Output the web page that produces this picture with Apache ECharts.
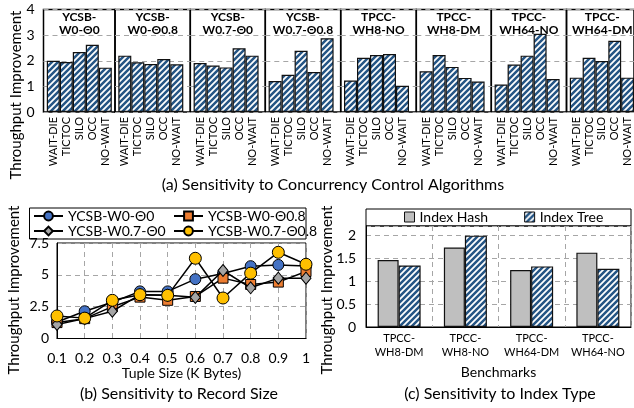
<!DOCTYPE html>
<html><head><meta charset="utf-8">
<script src="https://cdn.jsdelivr.net/npm/echarts@6/dist/echarts.min.js"></script>
<style>html,body{margin:0;padding:0;background:#fff}#c{width:634px;height:408px}</style>
</head><body><div id="c"></div>
<script>
// ---------- data ----------
const panelNames = ['YCSB-\nW0-Θ0','YCSB-\nW0-Θ0.8','YCSB-\nW0.7-Θ0','YCSB-\nW0.7-Θ0.8','TPCC-\nWH8-NO','TPCC-\nWH8-DM','TPCC-\nWH64-NO','TPCC-\nWH64-DM'];
const ccAlgorithms = ['WAIT-DIE','TICTOC','SILO','OCC','NO-WAIT'];
const ccImprovement = [
  [2.00,1.95,2.34,2.62,1.73],
  [2.20,1.94,1.87,2.07,1.86],
  [1.91,1.81,1.74,2.49,2.20],
  [1.21,1.45,2.39,1.56,2.88],
  [1.23,2.12,2.22,2.26,1.02],
  [1.59,2.22,1.76,1.33,1.19],
  [1.07,1.85,2.20,3.05,1.29],
  [1.34,2.12,1.99,2.78,1.34]
];
const ccTicks = [0,1,2,3,4];
const tupleSizes = ['0.1','0.2','0.3','0.4','0.5','0.6','0.7','0.8','0.9','1'];
const ycsbW0T0   = [1.30,2.14,2.85,3.70,3.70,4.66,5.10,5.68,5.78,5.70];
const ycsbW0T08  = [1.25,1.56,2.50,3.25,3.00,3.30,4.74,4.24,4.43,5.26];
const ycsbW07T0  = [1.10,1.56,2.14,3.44,3.40,3.23,5.34,3.98,4.74,4.74];
const ycsbW07T08 = [1.77,1.60,3.00,3.44,3.39,6.30,3.18,5.13,6.77,5.83];
const lineSeriesNames = ['YCSB-W0-Θ0','YCSB-W0-Θ0.8','YCSB-W0.7-Θ0','YCSB-W0.7-Θ0.8'];
const indexBenchmarks = ['TPCC-\nWH8-DM','TPCC-\nWH8-NO','TPCC-\nWH64-DM','TPCC-\nWH64-NO'];
const indexHash = [1.46,1.73,1.24,1.62];
const indexTree = [1.34,1.99,1.32,1.27];

// ---------- styling helpers ----------
const FONT = 'Lato, "DejaVu Sans", sans-serif';
const TXT = '#000';
function hatch(){
  const s = 6, c = document.createElement('canvas');
  c.width = c.height = s;
  const g = c.getContext('2d');
  g.fillStyle = '#fff'; g.fillRect(0,0,s,s);
  g.strokeStyle = '#255585'; g.lineWidth = 2.5;
  g.beginPath();
  g.moveTo(-1, s+1); g.lineTo(s+1, -1);
  g.moveTo(-s/2-1, s/2+1); g.lineTo(s/2+1, -s/2-1);
  g.moveTo(s/2-1, s*1.5+1); g.lineTo(s*1.5+1, s/2-1);
  g.stroke();
  return {image: c, repeat: 'repeat'};
}
const HATCH = hatch();
const dashed = {show:true, lineStyle:{color:'#a6a6a6', type:[5,4], width:1}};

// ---------- layout ----------
const edges = [43.5, 115, 190.3, 265.3, 340.7, 416.3, 491.3, 566.5, 637];
const topA = 9.5, bottomA = 112;

const grid = [], xAxis = [], yAxis = [], series = [], graphic = [];

// frame grids (0..7)
for (let i = 0; i < 8; i++) {
  grid.push({left: edges[i], top: topA, width: edges[i+1]-edges[i], height: bottomA-topA,
    show: true, borderColor: '#000', borderWidth: 1.5, containLabel: false});
  xAxis.push({gridIndex: i, type: 'category', data: [''], show: false});
  yAxis.push({gridIndex: i, type: 'value', min: ccTicks[0], max: ccTicks[ccTicks.length-1], interval: 1,
    axisLine: {show: false}, axisTick: {show: false},
    axisLabel: {show: i === 0, fontSize: 14, color: TXT, fontFamily: FONT, margin: 9},
    splitLine: dashed});
}
// data grids (8..15)
for (let i = 0; i < 8; i++) {
  const gi = 8 + i;
  grid.push({left: edges[i] + 3.3, top: topA, width: 65, height: bottomA-topA, show: false});
  xAxis.push({gridIndex: gi, type: 'category', data: ccAlgorithms,
    axisLine: {show: false}, axisTick: {show: false},
    axisLabel: {rotate: 90, interval: 0, fontSize: 11, color: TXT, fontFamily: FONT, margin: 5},
    splitLine: {show: false}});
  yAxis.push({gridIndex: gi, type: 'value', min: 0, max: 4, show: false, splitLine: {show: false}});
  series.push({type: 'bar', xAxisIndex: gi, yAxisIndex: gi, data: ccImprovement[i],
    barCategoryGap: '0%', itemStyle: {color: HATCH, borderColor: '#111', borderWidth: 1.2},
    emphasis: {disabled: true}, silent: true});
  graphic.push({type: 'text', x: (edges[i] + Math.min(edges[i+1], 634)) / 2 + (i === 7 ? 2 : 0), y: 11,
    style: {text: panelNames[i], align: 'center', verticalAlign: 'top',
      font: 'bold 12px ' + FONT, lineHeight: 12.5, fill: '#000'}});
}

// (b) grid 16
grid.push({left: 57, top: 243, width: 249, height: 95.5, show: true, borderColor: '#000', borderWidth: 1});
xAxis.push({gridIndex: 16, type: 'category', data: tupleSizes, boundaryGap: false,
  axisLine: {lineStyle: {color: '#000'}}, axisTick: {show: false},
  axisLabel: {fontSize: 14, color: TXT, fontFamily: FONT, margin: 13},
  splitLine: dashed,
  name: 'Tuple Size (K Bytes)', nameLocation: 'middle', nameGap: 20,
  nameTextStyle: {fontSize: 14, color: TXT, fontFamily: FONT}});
yAxis.push({gridIndex: 16, type: 'value', min: 0, max: 7.5, interval: 2.5,
  axisLine: {show: true, lineStyle: {color: '#000'}}, axisTick: {show: false},
  axisLabel: {fontSize: 14, color: TXT, fontFamily: FONT, margin: 8},
  splitLine: dashed});
const lineDefs = [
  {data: ycsbW0T0, symbol: 'circle', size: 11, color: '#4472c4'},
  {data: ycsbW0T08, symbol: 'rect', size: 10, color: '#ed7d31'},
  {data: ycsbW07T0, symbol: 'diamond', size: [10, 12], color: '#a5a5a5'},
  {data: ycsbW07T08, symbol: 'circle', size: 12, color: '#ffc000'}
];
lineDefs.forEach((d, k) => {
  series.push({type: 'line', name: lineSeriesNames[k], xAxisIndex: 16, yAxisIndex: 16, data: d.data,
    symbol: d.symbol, symbolSize: d.size, showAllSymbol: true,
    lineStyle: {color: '#000', width: 1.5},
    itemStyle: {color: d.color, borderColor: '#000', borderWidth: 1},
    emphasis: {disabled: true}, silent: true, z: 2 + k});
});

// (c) grid 17
grid.push({left: 366, top: 226, width: 265, height: 101, show: true, borderColor: '#000', borderWidth: 1});
xAxis.push({gridIndex: 17, type: 'category', data: indexBenchmarks,
  axisLine: {lineStyle: {color: '#000'}}, axisTick: {show: false},
  axisLabel: {interval: 0, fontSize: 11, lineHeight: 13.5, color: TXT, fontFamily: FONT, margin: 5},
  splitLine: dashed,
  name: 'Benchmarks', nameLocation: 'middle', nameGap: 38,
  nameTextStyle: {fontSize: 14, color: TXT, fontFamily: FONT}});
yAxis.push({gridIndex: 17, type: 'value', min: 0, max: 2.2, interval: 0.5,
  axisLine: {show: true, lineStyle: {color: '#000'}}, axisTick: {show: false},
  axisLabel: {fontSize: 14, color: TXT, fontFamily: FONT, margin: 10, showMaxLabel: false},
  splitLine: dashed});
series.push({type: 'bar', name: 'Index Hash', xAxisIndex: 17, yAxisIndex: 17, data: indexHash,
  barWidth: 21, barGap: '0%', itemStyle: {color: '#bfbfbf', borderColor: '#111', borderWidth: 1.2},
  emphasis: {disabled: true}, silent: true});
series.push({type: 'bar', name: 'Index Tree', xAxisIndex: 17, yAxisIndex: 17, data: indexTree,
  barWidth: 22, barGap: '0%', itemStyle: {color: HATCH, borderColor: '#111', borderWidth: 1.2},
  emphasis: {disabled: true}, silent: true});

// rotated axis titles, captions, legend boxes
const rot = (x, y, t) => ({type: 'text', x: x, y: y, rotation: Math.PI/2,
  style: {text: t, align: 'center', verticalAlign: 'middle', font: '15px ' + FONT, fill: TXT}});
graphic.push(rot(16, 95, 'Throughput Improvement'));
graphic.push(rot(14, 290, 'Throughput Improvement'));
graphic.push(rot(327, 290, 'Throughput Improvement'));
const cap = (x, y, t) => ({type: 'text', x: x, y: y,
  style: {text: t, align: 'center', verticalAlign: 'middle', font: '16px ' + FONT, fill: TXT}});
graphic.push(cap(333, 185, '(a) Sensitivity to Concurrency Control Algorithms'));
graphic.push(cap(179, 394, '(b) Sensitivity to Record Size'));
graphic.push(cap(500, 394, '(c) Sensitivity to Index Type'));
graphic.push({type: 'rect', shape: {x: 29.5, y: 208, width: 276.5, height: 31},
  style: {fill: 'transparent', stroke: '#000', lineWidth: 1}, z: -1});
graphic.push({type: 'rect', shape: {x: 366, y: 209, width: 265, height: 17},
  style: {fill: 'transparent', stroke: '#000', lineWidth: 1}, z: -1});

const legText = {fontSize: 14, color: TXT, fontFamily: FONT};
const legend = [
  {data: [lineSeriesNames[0], lineSeriesNames[2]], orient: 'vertical', left: 33, top: 209,
    itemWidth: 29, itemHeight: 11, itemGap: 1, padding: 0, textStyle: legText, selectedMode: false},
  {data: [lineSeriesNames[1], lineSeriesNames[3]], orient: 'vertical', left: 173, top: 209,
    itemWidth: 29, itemHeight: 11, itemGap: 1, padding: 0, textStyle: legText, selectedMode: false},
  {data: ['Index Hash', 'Index Tree'], orient: 'horizontal', left: 404, top: 210,
    icon: 'rect', itemWidth: 10, itemHeight: 10, itemGap: 36, padding: 0, textStyle: legText, selectedMode: false,
    itemStyle: {borderColor: '#111', borderWidth: 1}}
];

const chart = echarts.init(document.getElementById('c'), null, {renderer: 'canvas'});
chart.setOption({animation: false, backgroundColor: '#fff', textStyle: {fontFamily: FONT},
  grid, xAxis, yAxis, series, legend, graphic});
</script></body></html>
